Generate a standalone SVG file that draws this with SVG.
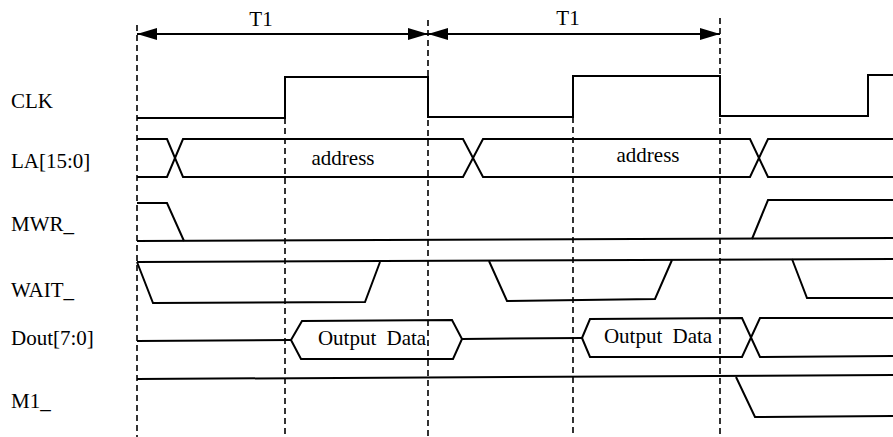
<svg xmlns="http://www.w3.org/2000/svg" width="893" height="437" viewBox="0 0 893 437">
  <style>
    .sig { fill: none; stroke: #000; stroke-width: 2; stroke-linejoin: miter; }
    .grid { fill: none; stroke: #000; stroke-width: 1.6; stroke-dasharray: 6 4; }
    .dim { fill: none; stroke: #000; stroke-width: 2; }
    .lbl { font-family: "Liberation Serif", "Times New Roman", serif; font-size: 21px; fill: #000; }
    .in { font-family: "Liberation Serif", "Times New Roman", serif; font-size: 21px; fill: #000; text-anchor: middle; }
  </style>
  <defs>
    <marker id="arr" viewBox="0 0 20 12" refX="20" refY="6" markerWidth="20" markerHeight="12" markerUnits="userSpaceOnUse" orient="auto-start-reverse">
      <path d="M0,0 L20,6 L0,12 Z" fill="#000"/>
    </marker>
  </defs>
  <rect width="893" height="437" fill="#fff"/>

  <!-- clock-edge reference lines -->
  <g id="gridlines">
    <line class="grid" x1="137" y1="25" x2="137" y2="437"/>
    <line class="grid" x1="285" y1="118" x2="285" y2="437"/>
    <line class="grid" x1="428" y1="20" x2="428" y2="437"/>
    <line class="grid" x1="573" y1="117" x2="573" y2="437"/>
    <line class="grid" x1="720" y1="18" x2="720" y2="437"/>
  </g>

  <!-- period dimension arrows -->
  <g id="connectors">
    <line class="dim" x1="137" y1="34" x2="428" y2="34" marker-start="url(#arr)" marker-end="url(#arr)"/>
    <line class="dim" x1="428" y1="34" x2="720" y2="34" marker-start="url(#arr)" marker-end="url(#arr)"/>
  </g>
  <g id="period1"><text class="in" x="261" y="26">T1</text></g>
  <g id="period2"><text class="in" x="568" y="25">T1</text></g>

  <!-- signal names -->
  <g id="labels">
    <text class="lbl" x="11" y="108">CLK</text>
    <text class="lbl" x="11" y="168">LA[15:0]</text>
    <text class="lbl" x="11" y="231">MWR_</text>
    <text class="lbl" x="11" y="297">WAIT_</text>
    <text class="lbl" x="11" y="345">Dout[7:0]</text>
    <text class="lbl" x="11" y="408">M1_</text>
  </g>

  <!-- CLK -->
  <g id="clk">
    <polyline class="sig" points="137,118 285,118 285,77 428,77 428,117 573,117 573,76 720,76 720,116 868,116 868,75 893,75"/>
  </g>

  <!-- LA[15:0] address bus -->
  <g id="la">
    <polyline class="sig" points="137,139 167,139 183,177 463,177 483,139 750,139 768,177 893,177"/>
    <polyline class="sig" points="137,177 167,177 183,139 463,139 483,177 750,177 768,139 893,139"/>
    <text class="in" x="343" y="165">address</text>
    <text class="in" x="648" y="162">address</text>
  </g>

  <!-- MWR_ -->
  <g id="mwr">
    <polyline class="sig" points="137,203 167,203 184,241"/>
    <line class="sig" x1="137" y1="241" x2="893" y2="238"/>
    <polyline class="sig" points="752,239 768,200 893,200"/>
  </g>

  <!-- WAIT_ -->
  <g id="wait">
    <line class="sig" x1="137" y1="262" x2="893" y2="259"/>
    <polyline class="sig" points="137,262 153,303 365,302 380,262"/>
    <polyline class="sig" points="489,261 507,301 655,299 672,260"/>
    <polyline class="sig" points="792,259 807,298 893,298"/>
  </g>

  <!-- Dout[7:0] data bus -->
  <g id="dout">
    <line class="sig" x1="137" y1="341" x2="291" y2="340"/>
    <polygon class="sig" points="291,340 302,321 452,320 462,339 453,359 301,359"/>
    <line class="sig" x1="462" y1="339" x2="582" y2="338"/>
    <polyline class="sig" points="582,338 590,319 742,318 760,357 893,356"/>
    <polyline class="sig" points="582,338 590,357 742,357 760,318 893,318"/>
    <text class="in" x="372" y="345" word-spacing="5">Output Data</text>
    <text class="in" x="658" y="343" word-spacing="5">Output Data</text>
  </g>

  <!-- M1_ -->
  <g id="m1">
    <line class="sig" x1="137" y1="379" x2="893" y2="375"/>
    <polyline class="sig" points="736,377 755,417 893,416"/>
  </g>
</svg>
